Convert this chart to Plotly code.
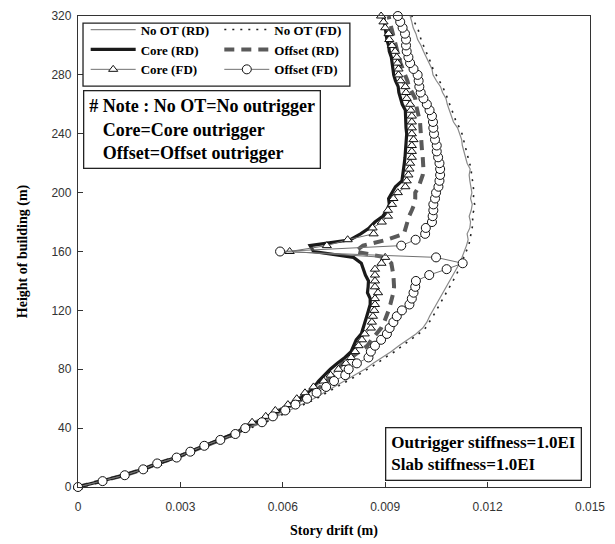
import plotly.graph_objects as go

# Floor levels (m)
heights = [0, 4, 8, 12, 16, 20, 24, 28, 32, 36,
           40, 44, 48, 52, 56, 60, 64, 68, 72, 76,
           80, 84, 88, 92, 96, 100, 104, 108, 112, 116,
           120, 124, 128, 132, 136, 140, 144, 148, 152, 156,
           160, 164, 168, 172, 176, 180, 184, 188, 192, 196,
           200, 204, 208, 212, 216, 220, 224, 228, 232, 236,
           240, 244, 248, 252, 256, 260, 264, 268, 272, 276,
           280, 284, 288, 292, 296, 300, 304, 308, 312, 316,
           320]

# Story drift (m) per level
no_ot_rd = [0, 0.00072, 0.00137, 0.00195, 0.00240, 0.00292, 0.00335, 0.00378, 0.00422, 0.00466,
            0.00500, 0.00545, 0.00582, 0.00620, 0.00655, 0.00690, 0.00720, 0.00748, 0.00780, 0.00810,
            0.00840, 0.00865, 0.00892, 0.00918, 0.00940, 0.00965, 0.00990, 0.01010, 0.01022, 0.01030,
            0.01040, 0.01050, 0.01060, 0.01070, 0.01080, 0.01090, 0.01100, 0.01110, 0.01118, 0.01125,
            0.01132, 0.01138, 0.01143, 0.01140, 0.01148, 0.01150, 0.01146, 0.01152, 0.01155, 0.01150,
            0.01154, 0.01150, 0.01148, 0.01146, 0.01149, 0.01140, 0.01135, 0.01130, 0.01126, 0.01124,
            0.01118, 0.01112, 0.01100, 0.01095, 0.01088, 0.01082, 0.01078, 0.01068, 0.01062, 0.01050,
            0.01040, 0.01037, 0.01028, 0.01020, 0.01012, 0.01005, 0.00995, 0.00990, 0.00982, 0.00978,
            0.00973]

no_ot_fd = [0, 0.00073, 0.00138, 0.00196, 0.00242, 0.00294, 0.00338, 0.00381, 0.00425, 0.00470,
            0.00505, 0.00550, 0.00588, 0.00626, 0.00662, 0.00698, 0.00728, 0.00757, 0.00789, 0.00820,
            0.00850, 0.00876, 0.00900, 0.00928, 0.00950, 0.00975, 0.00998, 0.01018, 0.01030, 0.01040,
            0.01050, 0.01060, 0.01070, 0.01080, 0.01090, 0.01100, 0.01108, 0.01116, 0.01124, 0.01130,
            0.01137, 0.01145, 0.01148, 0.01152, 0.01155, 0.01158, 0.01154, 0.01160, 0.01162, 0.01158,
            0.01160, 0.01159, 0.01156, 0.01152, 0.01153, 0.01147, 0.01143, 0.01138, 0.01133, 0.01130,
            0.01125, 0.01118, 0.01108, 0.01102, 0.01096, 0.01090, 0.01084, 0.01076, 0.01068, 0.01058,
            0.01048, 0.01040, 0.01034, 0.01026, 0.01019, 0.01012, 0.01005, 0.01000, 0.00995, 0.00985,
            0.00978]

core_rd = [0, 0.00070, 0.00134, 0.00190, 0.00234, 0.00287, 0.00330, 0.00372, 0.00415, 0.00455,
           0.00490, 0.00525, 0.00560, 0.00590, 0.00620, 0.00648, 0.00672, 0.00692, 0.00705, 0.00722,
           0.00739, 0.00760, 0.00782, 0.00800, 0.00808, 0.00815, 0.00830, 0.00836, 0.00841, 0.00846,
           0.00851, 0.00856, 0.00856, 0.00848, 0.00850, 0.00851, 0.00842, 0.00836, 0.00830, 0.00807,
           0.00690, 0.00680, 0.00798, 0.00828, 0.00853, 0.00870, 0.00893, 0.00905, 0.00912, 0.00910,
           0.00920, 0.00930, 0.00949, 0.00952, 0.00954, 0.00956, 0.00958, 0.00959, 0.00960, 0.00962,
           0.00963, 0.00961, 0.00960, 0.00959, 0.00959, 0.00950, 0.00945, 0.00940, 0.00938, 0.00930,
           0.00925, 0.00922, 0.00920, 0.00918, 0.00912, 0.00910, 0.00905, 0.00902, 0.00900, 0.00897,
           0.00895]

offset_rd = [0, 0.00071, 0.00135, 0.00191, 0.00234, 0.00288, 0.00330, 0.00371, 0.00416, 0.00458,
             0.00490, 0.00530, 0.00565, 0.00598, 0.00628, 0.00658, 0.00685, 0.00710, 0.00730, 0.00748,
             0.00760, 0.00775, 0.00800, 0.00825, 0.00848, 0.00860, 0.00875, 0.00888, 0.00897, 0.00905,
             0.00910, 0.00915, 0.00920, 0.00924, 0.00926, 0.00926, 0.00924, 0.00921, 0.00918, 0.00900,
             0.00812, 0.00835, 0.00905, 0.00955, 0.00960, 0.00963, 0.00970, 0.00978, 0.00985, 0.00988,
             0.00988, 0.00998, 0.01005, 0.01010, 0.01012, 0.01012, 0.01010, 0.01008, 0.01007, 0.01005,
             0.01003, 0.01002, 0.01002, 0.00998, 0.00993, 0.00990, 0.00988, 0.00978, 0.00970, 0.00965,
             0.00958, 0.00950, 0.00945, 0.00940, 0.00935, 0.00930, 0.00926, 0.00922, 0.00918, 0.00914,
             0.00910]

core_fd = [0, 0.00070, 0.00135, 0.00190, 0.00232, 0.00287, 0.00328, 0.00368, 0.00415, 0.00458,
           0.00485, 0.00510, 0.00550, 0.00578, 0.00615, 0.00641, 0.00665, 0.00690, 0.00720, 0.00740,
           0.00763, 0.00785, 0.00800, 0.00812, 0.00822, 0.00832, 0.00840, 0.00858, 0.00861, 0.00864,
           0.00868, 0.00870, 0.00870, 0.00879, 0.00870, 0.00870, 0.00870, 0.00870, 0.00889, 0.00900,
           0.00620, 0.00729, 0.00790, 0.00866, 0.00863, 0.00890, 0.00908, 0.00908, 0.00920, 0.00924,
           0.00937, 0.00959, 0.00963, 0.00968, 0.00971, 0.00973, 0.00978, 0.00978, 0.00978, 0.00983,
           0.00978, 0.00978, 0.00978, 0.00978, 0.00975, 0.00973, 0.00963, 0.00961, 0.00959, 0.00945,
           0.00939, 0.00939, 0.00936, 0.00934, 0.00929, 0.00920, 0.00912, 0.00910, 0.00900, 0.00895,
           0.00888]

offset_fd = [0, 0.00072, 0.00137, 0.00191, 0.00232, 0.00289, 0.00329, 0.00370, 0.00417, 0.00461,
             0.00490, 0.00539, 0.00571, 0.00607, 0.00637, 0.00671, 0.00699, 0.00727, 0.00750, 0.00783,
             0.00793, 0.00817, 0.00851, 0.00858, 0.00870, 0.00888, 0.00905, 0.00913, 0.00924, 0.00934,
             0.00949, 0.00971, 0.00978, 0.00983, 0.00988, 0.00990, 0.01029, 0.01080, 0.01127, 0.01049,
             0.00592, 0.00947, 0.00989, 0.01017, 0.01019, 0.01037, 0.01039, 0.01041, 0.01041, 0.01046,
             0.01049, 0.01056, 0.01059, 0.01061, 0.01061, 0.01059, 0.01055, 0.01051, 0.01051, 0.01046,
             0.01043, 0.01041, 0.01040, 0.01037, 0.01030, 0.01022, 0.01012, 0.01004, 0.01000, 0.00998,
             0.00995, 0.00983, 0.00973, 0.00968, 0.00963, 0.00961, 0.00961, 0.00958, 0.00951, 0.00944,
             0.00937]

x_ticks = [0, 0.003, 0.006, 0.009, 0.012, 0.015]
x_tick_text = ["0", "0.003", "0.006", "0.009", "0.012", "0.015"]
y_ticks = [0, 40, 80, 120, 160, 200, 240, 280, 320]

SERIF = "Liberation Serif, Times New Roman, serif"
SANS = "Liberation Sans, Arial, sans-serif"

fig = go.Figure()

fig.add_trace(go.Scatter(
    x=no_ot_rd, y=heights, name="No OT (RD)", mode="lines",
    line=dict(color="#8a8a8a", width=1.2), legend="legend", legendrank=1,
    cliponaxis=False))
fig.add_trace(go.Scatter(
    x=no_ot_fd, y=heights, name="No OT (FD)", mode="lines",
    line=dict(color="#222222", width=1.6, dash="2px,6px"), legend="legend2",
    legendrank=1, cliponaxis=False))
fig.add_trace(go.Scatter(
    x=offset_rd, y=heights, name="Offset (RD)", mode="lines",
    line=dict(color="#5a5a5a", width=4, dash="10px,7px"), legend="legend2",
    legendrank=2, cliponaxis=False))
fig.add_trace(go.Scatter(
    x=core_rd, y=heights, name="Core (RD)", mode="lines",
    line=dict(color="#1a1a1a", width=3.2), legend="legend", legendrank=2,
    cliponaxis=False))
fig.add_trace(go.Scatter(
    x=core_fd, y=heights, name="Core (FD)", mode="lines+markers",
    line=dict(color="#707070", width=1),
    marker=dict(symbol="triangle-up", size=8, color="white",
                line=dict(color="#111111", width=1)),
    legend="legend", legendrank=3, cliponaxis=False))
fig.add_trace(go.Scatter(
    x=offset_fd, y=heights, name="Offset (FD)", mode="lines+markers",
    line=dict(color="#707070", width=1),
    marker=dict(symbol="circle", size=9, color="white",
                line=dict(color="#111111", width=1)),
    legend="legend2", legendrank=3, cliponaxis=False))

legend_style = dict(
    font=dict(family=SERIF, size=13, color="black", weight="bold"),
    bgcolor="rgba(0,0,0,0)", borderwidth=0, itemwidth=45,
    tracegroupgap=0, xanchor="left", yanchor="top", traceorder="normal",
)

fig.update_layout(
    width=615, height=544,
    margin=dict(l=78, r=25, t=16, b=57),
    paper_bgcolor="white", plot_bgcolor="white",
    showlegend=True,
    legend=dict(x=0.015, y=1.003, **legend_style),
    legend2=dict(x=0.276, y=1.003, **legend_style),
    xaxis=dict(
        range=[0, 0.015], tickvals=x_ticks, ticktext=x_tick_text, automargin=False,
        ticks="inside", ticklen=5, tickcolor="#333", showgrid=False, zeroline=False,
        showline=True, linecolor="#333", linewidth=1.3, mirror=True,
        ticklabelstandoff=8,
        tickfont=dict(family=SANS, size=12, color="#333"),
        title=dict(text="Story drift (m)", standoff=12,
                   font=dict(family=SERIF, size=14, color="black", weight="bold")),
    ),
    yaxis=dict(
        range=[0, 320], tickvals=y_ticks, automargin=False,
        ticks="inside", ticklen=5, tickcolor="#333", showgrid=False, zeroline=False,
        showline=True, linecolor="#333", linewidth=1.3, mirror=True,
        ticklabelstandoff=3,
        tickfont=dict(family=SANS, size=12, color="#333"),
        title=dict(text="Height of building (m)", standoff=20,
                   font=dict(family=SERIF, size=14, color="black", weight="bold")),
    ),
    shapes=[
        # frame around the two legend columns
        dict(type="rect", xref="paper", yref="paper",
             x0=0.0098, x1=0.531, y0=0.851, y1=0.985,
             line=dict(color="#222", width=1.3), fillcolor="rgba(0,0,0,0)", layer="above"),
    ],
    annotations=[
        dict(xref="paper", yref="paper", x=0.0098, y=0.843, xanchor="left", yanchor="top",
             text="# Note : No OT=No outrigger<br>\u00a0\u00a0\u00a0Core=Core outrigger"
                  "<br>\u00a0\u00a0\u00a0Offset=Offset outrigger",
             align="left", showarrow=False, bgcolor="white",
             bordercolor="#222", borderwidth=1.3, borderpad=5,
             font=dict(family=SERIF, size=18, color="black", weight="bold")),
        dict(xref="paper", yref="paper", x=0.984, y=0.127, xanchor="right", yanchor="top",
             text="Outrigger stiffness=1.0EI<br>Slab stiffness=1.0EI",
             align="left", showarrow=False, bgcolor="white",
             bordercolor="#222", borderwidth=1.3, borderpad=5,
             font=dict(family=SERIF, size=17, color="black", weight="bold")),
    ],
)

fig.write_html("out.html")
